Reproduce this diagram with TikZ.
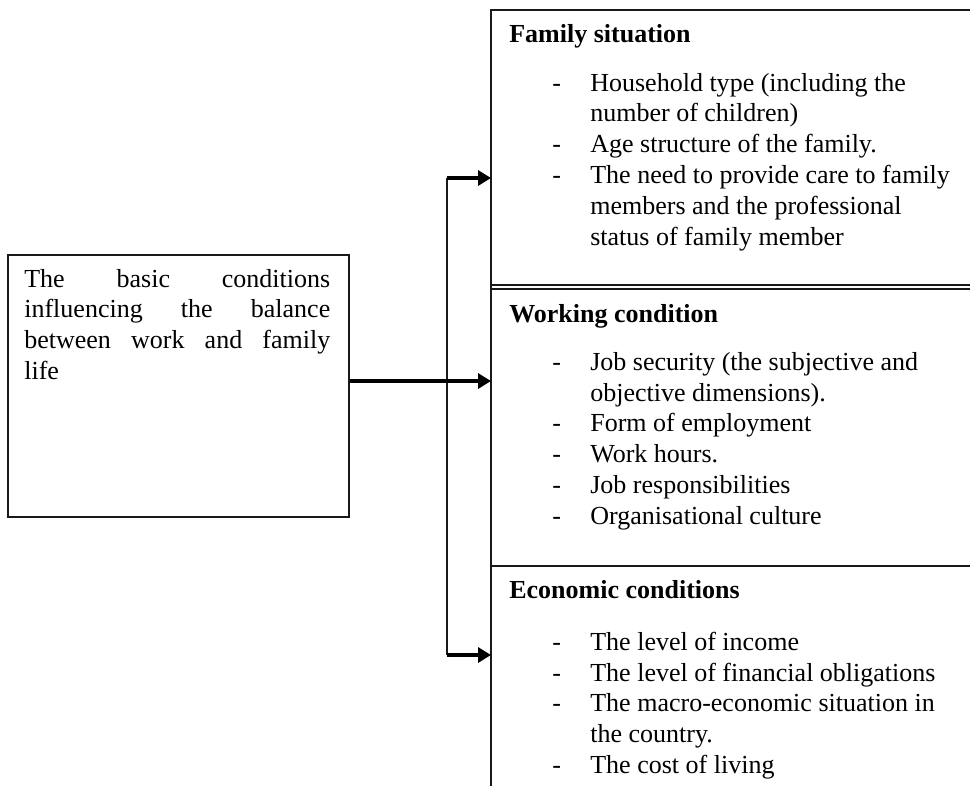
\documentclass[tikz,border=0pt]{standalone}
\usepackage{fontspec}
\setmainfont{Liberation Serif}
\usetikzlibrary{arrows.meta, positioning}

\newcommand{\listfont}{\fontsize{14.8}{17.64}\selectfont}

\begin{document}
\begin{tikzpicture}[x=0.02cm, y=-0.02cm,
    frame/.style={draw=black!90, line width=0.9pt},
    basebox/.style={frame, inner sep=0pt, minimum width=6.82cm, minimum height=5.24cm},
    link/.style={line width=2.8pt, -{Triangle[length=0.26cm, width=0.3cm]}},
    heading/.style={anchor=base west, inner sep=0pt, font=\listfont\bfseries},
    itemlist/.style={anchor=base west, inner sep=0pt, font=\listfont}]
  \useasboundingbox (0,0) rectangle (970,785);

  % left box
  \node[basebox] (basic) at (178.5,386) {};
  \node[itemlist] (basictext) at (24,287) {%
    \begin{tabular}[t]{@{}l@{}}
      \makebox[6.12cm][s]{The basic conditions}\\
      \makebox[6.12cm][s]{influencing the balance}\\
      \makebox[6.12cm][s]{between work and family}\\
      life
    \end{tabular}};

  % right panels (open on the right and at the bottom)
  \draw[frame] (975,10) -- (491,10) -- (491,790);
  \draw[frame] (491,285) -- (975,285);
  \draw[frame] (491,289) -- (975,289);
  \draw[frame] (491,566) -- (975,566);

  % family situation
  \node[heading] (famhead) at (509,42) {Family situation};
  \node[itemlist] (famlist) at (552,91) {%
    \begin{tabular}[t]{@{}p{0.76cm}@{}l@{}}
      - & Household type (including the\\
        & number of children)\\
      - & Age structure of the family.\\
      - & The need to provide care to family\\
        & members and the professional\\
        & status of family member
    \end{tabular}};

  % working condition
  \node[heading] (workhead) at (509,322) {Working condition};
  \node[itemlist] (worklist) at (552,370) {%
    \begin{tabular}[t]{@{}p{0.76cm}@{}l@{}}
      - & Job security (the subjective and\\
        & objective dimensions).\\
      - & Form of employment\\
      - & Work hours.\\
      - & Job responsibilities\\
      - & Organisational culture
    \end{tabular}};

  % economic conditions
  \node[heading] (ecohead) at (509,598) {Economic conditions};
  \node[itemlist] (ecolist) at (552,650) {%
    \begin{tabular}[t]{@{}p{0.76cm}@{}l@{}}
      - & The level of income\\
      - & The level of financial obligations\\
      - & The macro-economic situation in\\
        & the country.\\
      - & The cost of living
    \end{tabular}};

  % connectors
  \coordinate (famin) at (491,178);
  \coordinate (workin) at (491,381);
  \coordinate (ecoin) at (491,655);
  \coordinate (jtop) at (447,178);
  \coordinate (jbot) at (447,655);
  \draw[frame] (jtop) -- (jbot);
  \draw[link] (workin -| basic.east) -- (workin);
  \draw[link] (jtop) -- (famin);
  \draw[link] (jbot) -- (ecoin);
\end{tikzpicture}
\end{document}
